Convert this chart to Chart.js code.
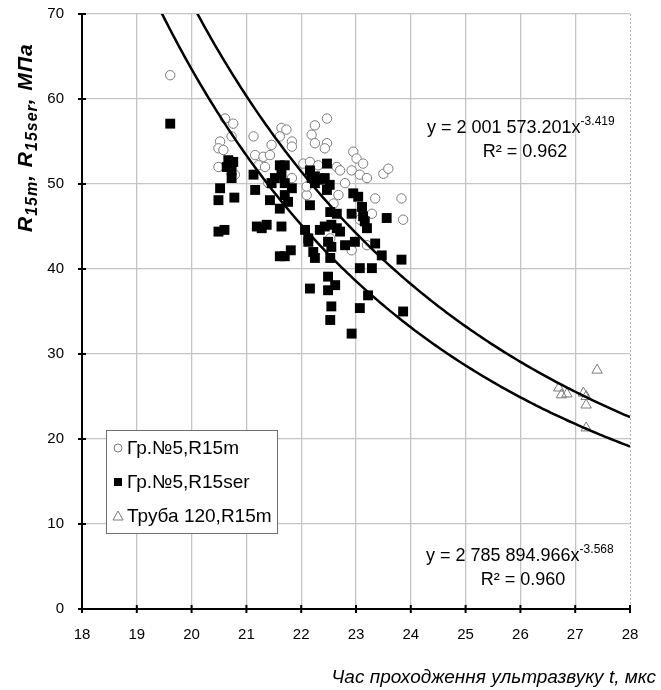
<!DOCTYPE html>
<html>
<head>
<meta charset="utf-8">
<script src="https://cdn.jsdelivr.net/npm/chart.js@4.4.1/dist/chart.umd.min.js"></script>
<style>
  html, body { margin: 0; padding: 0; background: #fff; }
</style>
</head>
<body>
<canvas id="chart" width="661" height="690"></canvas>
<script>
// Гр.№5, R15m (open circles)
const r15mX = [19.61, 20.61, 20.76, 20.52, 20.73, 20.49, 20.58, 20.49, 20.79, 21.13, 21.16, 21.31, 21.43, 21.22, 21.34,
  21.46, 21.64, 21.73, 21.61, 21.83, 21.83, 21.40, 21.83, 22.04, 22.19, 22.25, 22.16, 22.10, 22.47, 22.25,
  22.47, 22.43, 22.16, 22.31, 22.65, 22.71, 22.95, 23.01, 23.13, 22.92, 23.07, 23.20, 22.80, 22.10, 22.68,
  22.59, 23.35, 23.29, 23.50, 23.59, 23.83, 23.86, 22.92, 22.53, 23.20, 23.07];
const r15mY = [62.8, 57.7, 57.1, 55.0, 55.6, 54.2, 54.0, 52.0, 51.1, 55.6, 53.4, 53.2, 53.4, 52.2, 52.0,
  54.6, 56.6, 56.4, 55.6, 55.0, 54.4, 50.1, 50.7, 52.4, 55.8, 56.9, 51.4, 48.7, 57.7, 54.8,
  54.8, 54.2, 52.6, 52.2, 52.0, 51.6, 53.8, 53.0, 52.4, 51.6, 51.1, 50.7, 50.1, 49.7, 48.7,
  47.7, 48.3, 46.5, 51.2, 51.8, 48.3, 45.8, 42.2, 43.6, 42.8, 45.8];

// Гр.№5, R15ser (filled squares)
const r15serX = [19.61, 20.67, 20.76, 20.64, 20.73, 20.73, 20.52, 20.49, 20.78, 20.49, 20.60, 21.13, 21.16, 21.19, 21.28,
  21.37, 21.64, 21.61, 21.70, 21.52, 21.46, 21.64, 21.70, 21.83, 21.43, 21.61, 21.70, 21.76, 21.61, 21.70,
  21.81, 22.07, 22.13, 22.16, 22.16, 22.19, 22.16, 22.47, 22.25, 22.34, 22.43, 22.52, 22.25, 22.47, 22.95,
  23.04, 23.11, 22.53, 22.65, 22.92, 23.13, 23.16, 23.20, 23.56, 22.13, 22.34, 22.43, 22.55, 22.65, 22.71,
  22.49, 22.55, 22.22, 22.25, 22.53, 22.80, 22.98, 23.35, 23.47, 23.83, 23.07, 23.29, 22.49, 22.62, 22.49,
  22.55, 22.53, 23.22, 23.07, 23.86, 22.92];
const r15serY = [57.1, 52.8, 52.6, 52.0, 51.6, 50.7, 49.5, 48.1, 48.4, 44.4, 44.6, 51.1, 49.3, 45.0, 44.8,
  45.2, 45.0, 52.2, 52.2, 50.7, 50.1, 51.1, 50.1, 49.5, 48.1, 47.1, 48.7, 47.9, 41.5, 41.5,
  42.2, 44.6, 43.6, 37.7, 51.6, 50.7, 47.5, 52.4, 50.9, 50.5, 50.7, 49.9, 50.1, 49.3, 48.9,
  48.5, 47.3, 46.7, 46.5, 46.5, 46.2, 45.6, 44.8, 46.0, 43.2, 44.6, 45.0, 45.2, 44.8, 44.4,
  43.2, 42.6, 42.0, 41.3, 41.3, 42.8, 43.2, 43.0, 41.6, 41.1, 40.1, 40.1, 39.1, 38.1, 37.5,
  35.6, 34.0, 36.9, 35.4, 35.0, 32.4];

// Труба 120, R15m (open triangles)
const trubaX = [26.70, 26.75, 26.85, 27.15, 27.20, 27.20, 27.20, 27.40];
const trubaY = [26.0, 25.2, 25.3, 25.4, 25.0, 24.0, 21.3, 28.1];

// power trend lines as printed on the chart: y = a * x^b
const trendUpper = { a: 2001573.201, b: -3.419, r2: '0.962' };
const trendLower = { a: 2785894.966, b: -3.568, r2: '0.960' };
const trendX = [];
for (let x = 19; x <= 28.0001; x += 0.05) trendX.push(+x.toFixed(2));

const xTicks = [18, 19, 20, 21, 22, 23, 24, 25, 26, 27, 28];
const yTicks = [0, 10, 20, 30, 40, 50, 60, 70];

const legendLabels = ['Гр.№5,R15m', 'Гр.№5,R15ser', 'Труба 120,R15m'];
const xTitle = 'Час проходження ультразвуку t, мкс';

const toPoints = (xs, ys) => xs.map((x, i) => ({ x: x, y: ys[i] }));
const trendPoints = t => trendX.map(x => ({ x: x, y: t.a * Math.pow(x, t.b) }));

const FONT = '"Liberation Sans", Arial, sans-serif';

// text with a superscript tail, left aligned at x
function supText(ctx, base, sup, x, y, size) {
  ctx.font = size + 'px ' + FONT;
  ctx.fillText(base, x, y);
  const w = ctx.measureText(base).width;
  ctx.font = Math.round(size * 0.68) + 'px ' + FONT;
  ctx.fillText(sup, x + w, y - size * 0.42);
}

const extras = {
  id: 'extras',
  afterDraw(chart) {
    const ctx = chart.ctx;
    const area = chart.chartArea;
    const sx = chart.scales.x, sy = chart.scales.y;
    ctx.save();

    // dotted right border of the plot
    ctx.strokeStyle = '#b0b0b0';
    ctx.lineWidth = 1;
    ctx.setLineDash([2, 2]);
    ctx.beginPath();
    ctx.moveTo(area.right + 0.5, area.top); ctx.lineTo(area.right + 0.5, area.bottom);
    ctx.stroke();
    ctx.setLineDash([]);

    // crossing tick marks on both axes
    ctx.strokeStyle = '#000';
    ctx.lineWidth = 2;
    ctx.beginPath();
    xTicks.forEach(v => {
      const p = sx.getPixelForValue(v);
      ctx.moveTo(p, area.bottom - 4); ctx.lineTo(p, area.bottom + 4);
    });
    yTicks.forEach(v => {
      const p = sy.getPixelForValue(v);
      ctx.moveTo(area.left - 4, p); ctx.lineTo(area.left + 4, p);
    });
    ctx.stroke();

    ctx.fillStyle = '#000';
    ctx.textBaseline = 'alphabetic';

    // equations
    ctx.textAlign = 'left';
    supText(ctx, 'y = 2 001 573.201x', '-3.419', 427, 133, 18);
    supText(ctx, 'y = 2 785 894.966x', '-3.568', 426, 561, 18);
    ctx.textAlign = 'center';
    ctx.font = '18px ' + FONT;
    ctx.fillText('R² = ' + trendUpper.r2, 525, 157);
    ctx.fillText('R² = ' + trendLower.r2, 523, 585);

    // x axis title
    ctx.textAlign = 'right';
    ctx.font = 'italic 19px ' + FONT;
    ctx.fillText(xTitle, 656, 683);

    // y axis title with subscripts
    ctx.save();
    ctx.translate(32, 232);
    ctx.rotate(-Math.PI / 2);
    ctx.textAlign = 'left';
    ctx.letterSpacing = '1px';
    const parts = [['R', 0], ['15m', 1], [', R', 0], ['15ser', 1], [', МПа', 0]];
    let cx = 0;
    parts.forEach(([t, sub]) => {
      ctx.font = 'bold italic ' + (sub ? 16 : 21) + 'px ' + FONT;
      ctx.fillText(t, cx, sub ? 5 : 0);
      cx += ctx.measureText(t).width;
    });
    ctx.restore();

    // legend box
    const lx = 106, ly = 430, lw = 171, lh = 103;
    ctx.fillStyle = '#fff';
    ctx.fillRect(lx, ly, lw, lh);
    ctx.strokeStyle = '#6e6e6e';
    ctx.lineWidth = 1;
    ctx.strokeRect(lx + 0.5, ly + 0.5, lw, lh);
    const rows = [448, 482, 516];
    const mx = 118;
    // circle
    ctx.strokeStyle = '#7a7a7a';
    ctx.beginPath(); ctx.arc(mx, rows[0], 4, 0, Math.PI * 2); ctx.stroke();
    // square
    ctx.fillStyle = '#000';
    ctx.fillRect(mx - 4, rows[1] - 4, 8, 8);
    // triangle
    ctx.beginPath();
    ctx.moveTo(mx, rows[2] - 5); ctx.lineTo(mx + 5, rows[2] + 4); ctx.lineTo(mx - 5, rows[2] + 4); ctx.closePath();
    ctx.stroke();
    ctx.fillStyle = '#000';
    ctx.textAlign = 'left';
    ctx.textBaseline = 'middle';
    ctx.font = '19px ' + FONT;
    legendLabels.forEach((t, i) => ctx.fillText(t, 127, rows[i] + 1));

    ctx.restore();
  }
};

new Chart(document.getElementById('chart'), {
  type: 'scatter',
  data: {
    datasets: [
      {
        label: 'trend R15m',
        data: trendPoints(trendUpper),
        showLine: true, pointRadius: 0, borderColor: '#000', borderWidth: 2.5,
        tension: 0, order: 0
      },
      {
        label: 'trend R15ser',
        data: trendPoints(trendLower),
        showLine: true, pointRadius: 0, borderColor: '#000', borderWidth: 2.5,
        tension: 0, order: 0
      },
      {
        label: legendLabels[1],
        data: toPoints(r15serX, r15serY),
        pointStyle: 'rect', pointRadius: 7, backgroundColor: '#000', borderColor: '#000', borderWidth: 0,
        order: 1
      },
      {
        label: legendLabels[0],
        data: toPoints(r15mX, r15mY),
        pointStyle: 'circle', pointRadius: 4.7, backgroundColor: '#fff', borderColor: '#7a7a7a', borderWidth: 1,
        order: 2
      },
      {
        label: legendLabels[2],
        data: toPoints(trubaX, trubaY),
        pointStyle: 'triangle', pointRadius: 6, backgroundColor: 'rgba(255,255,255,0)', borderColor: '#7a7a7a', borderWidth: 1,
        order: 3
      }
    ]
  },
  options: {
    responsive: false,
    animation: false,
    layout: { padding: { top: 14, right: 31, left: 0, bottom: 0 } },
    plugins: { legend: { display: false }, tooltip: { enabled: false } },
    elements: { point: { hoverRadius: 0 } },
    scales: {
      x: {
        type: 'linear', min: 18, max: 28,
        afterFit: s => { s.height = 81; },
        afterBuildTicks: s => { s.ticks = xTicks.map(v => ({ value: v })); },
        grid: { color: c => (c.tick && c.tick.value === 28 ? 'rgba(0,0,0,0)' : '#c4c4c4'), lineWidth: 1.3, drawTicks: false },
        border: { color: '#000', width: 2 },
        ticks: { padding: 17, color: '#000', font: { family: FONT, size: 15 } }
      },
      y: {
        type: 'linear', min: 0, max: 70,
        afterFit: s => { s.width = 82; s.paddingTop = 0; s.paddingBottom = 0; },
        afterBuildTicks: s => { s.ticks = yTicks.map(v => ({ value: v })); },
        grid: { color: '#c4c4c4', lineWidth: 1.3, drawTicks: false },
        border: { color: '#000', width: 2 },
        ticks: { padding: 18, color: '#000', font: { family: FONT, size: 15 } }
      }
    }
  },
  plugins: [extras]
});
</script>
</body>
</html>
